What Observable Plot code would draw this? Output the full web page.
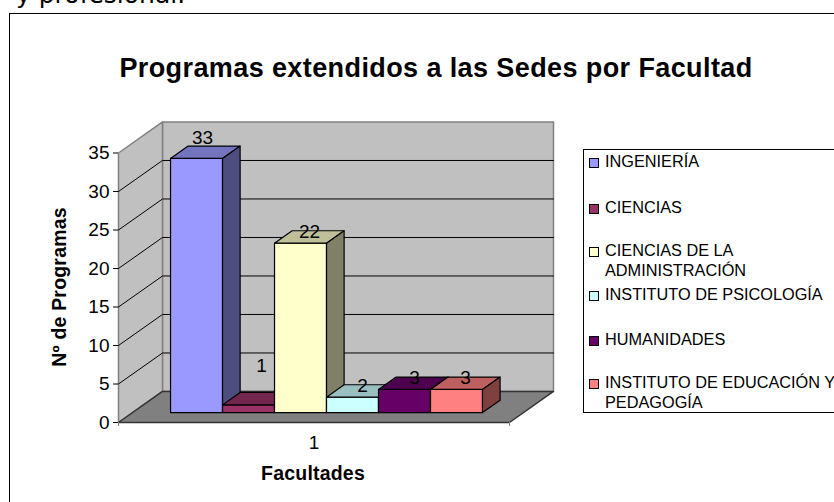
<!DOCTYPE html>
<html>
<head>
<meta charset="utf-8">
<script src="https://cdn.jsdelivr.net/npm/d3@7"></script>
<script src="https://cdn.jsdelivr.net/npm/@observablehq/plot@0.6"></script>
<style>
html,body{margin:0;padding:0;background:#fff;overflow:hidden}
#page{position:relative;width:834px;height:502px;overflow:hidden;font-family:"Liberation Sans",Arial,sans-serif;color:#000}
#page svg{position:absolute;left:0;top:0}
#frame{position:absolute;left:9px;top:13px;width:900px;height:600px;border:1.5px solid #000;box-sizing:border-box}
#intro{position:absolute;left:16px;top:-20px;font:25px/30px "DejaVu Sans",sans-serif;white-space:nowrap}
#title{position:absolute;left:10px;width:852px;top:55px;text-align:center;font-weight:bold;font-size:27px;letter-spacing:.4px;line-height:26px;white-space:nowrap}
.axis-title{position:absolute;font-weight:bold;font-size:19.5px;letter-spacing:.2px;line-height:20px;white-space:nowrap}
#xtitle{left:213px;width:200px;top:463px;text-align:center}
#ytitle{left:59px;top:287px;transform:translate(-50%,-50%) rotate(-90deg)}
#legend{position:absolute;left:583px;top:149px;width:400px;height:264px;border:1px solid #000;box-sizing:border-box}
.entry{position:absolute;left:5px;display:flex;align-items:flex-start}
.swatch{width:8px;height:8px;border:1px solid #000;margin-right:6px;flex:none;margin-top:5px}
.label{font-size:16.3px;line-height:19.5px;white-space:pre;margin-top:-1px}
</style>
</head>
<body>
<div id="page">
<div id="frame"></div>
<div id="intro">y profesional.</div>
<div id="chart"></div>
<div id="title"></div>
<div id="xtitle" class="axis-title"></div>
<div id="ytitle" class="axis-title"></div>
<div id="legend"></div>
</div>
<script>
const faculties = ["INGENIERÍA","CIENCIAS","CIENCIAS DE LA\nADMINISTRACIÓN","INSTITUTO DE PSICOLOGÍA","HUMANIDADES","INSTITUTO DE EDUCACIÓN Y\nPEDAGOGÍA"];
const programs = [33,1,22,2,3,3];
const colors = ["#9999FF","#993366","#FFFFCC","#CCFFFF","#660066","#FF8080"];
const yTicks = [0,5,10,15,20,25,30,35];
const categoryLabel = "1";
const titleText = "Programas extendidos a las Sedes por Facultad";
const xTitle = "Facultades";
const yTitle = "Nº de Programas";

// layout of the pseudo-3D box, in scale units
const floorWidth = 7.52;           // bar widths
const firstBar = 0.73;
const depthX = 0.846, depthY = 4.03; // shift of the back wall
const barFront = 0.32, barBack = 0.72;
const labelDx = [6,13,9,10,10,9];
const labelDy = [-21,-39,-11,-11,-12,-12];
const legendTops = [153,199,242,286,331,374];

const P = (x,v,d) => ({x:x+d*depthX, y:v+d*depthY});
const poly = (id,fill,stroke,pts) => [...pts,pts[0]].map(p=>({...p,id,fill,stroke}));
const shade = (c,k) => { const r=d3.rgb(c); return d3.rgb(r.r*k,r.g*k,r.b*k).formatHex(); };

const yMax = yTicks[yTicks.length-1];
const wallGrey = "#808080";
const walls = [
  ...poly("back","#C0C0C0",wallGrey,[P(0,0,1),P(floorWidth,0,1),P(floorWidth,yMax,1),P(0,yMax,1)]),
  ...poly("side","#C0C0C0",wallGrey,[P(0,0,0),P(0,0,1),P(0,yMax,1),P(0,yMax,0)]),
  ...poly("floor","#808080","#333",[P(0,0,0),P(floorWidth,0,0),P(floorWidth,0,1),P(0,0,1)])
];
const gridLines = yTicks.slice(1,-1).flatMap(v=>[
  {...P(0,v,0),id:"g"+v},{...P(0,v,1),id:"g"+v},{...P(floorWidth,v,1),id:"g"+v}
]);
const faces = programs.flatMap((v,i)=>{
  const a=firstBar+i, b=a+1, c=colors[i];
  return [
    ...poly("front"+i,c,"#000",[P(a,0,barFront),P(b,0,barFront),P(b,v,barFront),P(a,v,barFront)]),
    ...poly("top"+i,shade(c,.75),"#000",[P(a,v,barFront),P(b,v,barFront),P(b,v,barBack),P(a,v,barBack)]),
    ...poly("right"+i,shade(c,.5),"#000",[P(b,0,barFront),P(b,0,barBack),P(b,v,barBack),P(b,v,barFront)])
  ];
});
const valueTexts = programs.map((v,i)=>
  Plot.text([v],{x:()=>P(firstBar+i+.5,v,barFront).x,y:()=>P(firstBar+i+.5,v,barFront).y,
    text:d=>String(d),dx:labelDx[i],dy:labelDy[i],fontSize:19,fontFamily:"Liberation Sans",fill:"#000"}));

const chart = Plot.plot({
  width:834,height:502,
  marginLeft:118,marginRight:325,marginTop:152.5,marginBottom:80,
  x:{domain:[0,floorWidth],axis:null},
  y:{domain:[0,yMax],axis:null},
  style:{background:"transparent",fontFamily:"Liberation Sans",overflow:"visible"},
  marks:[
    Plot.line(walls,{x:"x",y:"y",z:"id",fill:"fill",stroke:"stroke",strokeWidth:1.5,curve:"linear"}),
    Plot.line(gridLines,{x:"x",y:"y",z:"id",stroke:"#000",strokeWidth:1}),
    Plot.line(faces,{x:"x",y:"y",z:"id",fill:"fill",stroke:"stroke",strokeWidth:1.2,strokeLinejoin:"round"}),
    Plot.axisY({ticks:yTicks,tickSize:5,tickPadding:4,fontSize:19,stroke:"#000",fill:"#000",label:null}),
    Plot.axisX({ticks:[0,floorWidth],tickSize:4,tickFormat:()=>"",stroke:wallGrey,label:null}),
    Plot.text([categoryLabel],{x:()=>floorWidth/2,y:()=>0,text:d=>d,dy:20,fontSize:19,fill:"#000"}),
    ...valueTexts
  ]
});
document.getElementById("chart").append(chart);
document.getElementById("title").textContent = titleText;
document.getElementById("xtitle").textContent = xTitle;
document.getElementById("ytitle").textContent = yTitle;
const legend = document.getElementById("legend");
faculties.forEach((name,i)=>{
  const e=document.createElement("div");e.className="entry";e.style.top=(legendTops[i]-149-1)+"px";
  const s=document.createElement("div");s.className="swatch";s.style.background=colors[i];
  const t=document.createElement("div");t.className="label";t.textContent=name;
  e.append(s,t);legend.append(e);
});
</script>
</body>
</html>
